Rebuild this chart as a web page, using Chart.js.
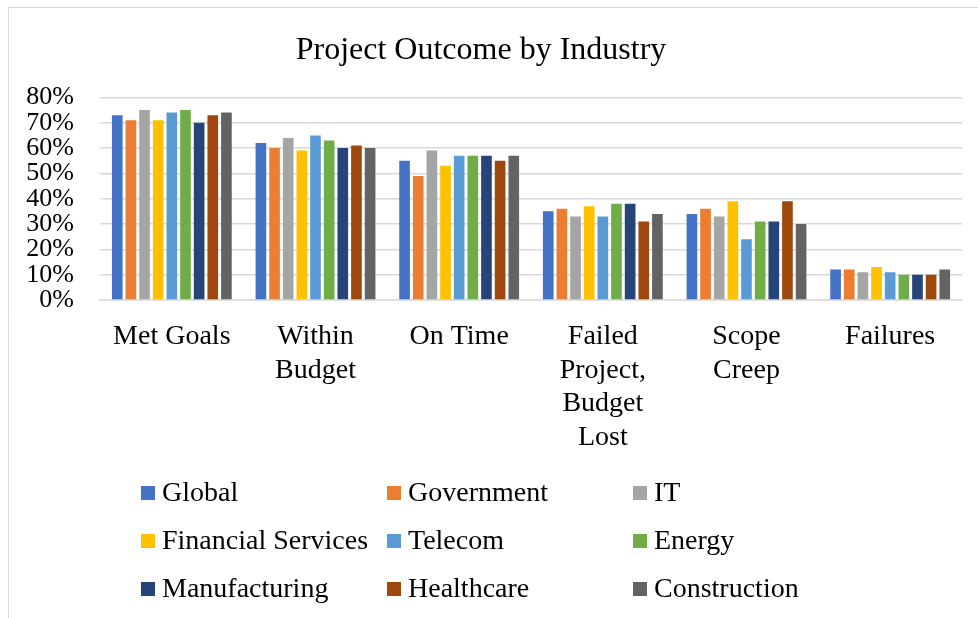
<!DOCTYPE html>
<html>
<head>
<meta charset="utf-8">
<script src="https://cdn.jsdelivr.net/npm/chart.js@4"></script>
<style>
  body { margin: 0; background: #fff; }
  #wrap { position: absolute; left: 0; top: 0; width: 978px; height: 618px; }
</style>
</head>
<body>
<div id="wrap"><canvas id="myChart" width="978" height="618"></canvas></div>
<script>
const categories = ['Met Goals', ['Within', 'Budget'], 'On Time', ['Failed', 'Project,', 'Budget', 'Lost'], ['Scope', 'Creep'], 'Failures'];
const seriesNames = ['Global', 'Government', 'IT', 'Financial Services', 'Telecom', 'Energy', 'Manufacturing', 'Healthcare', 'Construction'];
const seriesColors = ['#4472C4', '#ED7D31', '#A5A5A5', '#FFC000', '#5B9BD5', '#70AD47', '#264478', '#9E480E', '#636363'];
// percent values per industry, in category order
const global = [73, 62, 55, 35, 34, 12];
const government = [71, 60, 49, 36, 36, 12];
const it = [75, 64, 59, 33, 33, 11];
const financialServices = [71, 59, 53, 37, 39, 13];
const telecom = [74, 65, 57, 33, 24, 11];
const energy = [75, 63, 57, 38, 31, 10];
const manufacturing = [70, 60, 57, 38, 31, 10];
const healthcare = [73, 61, 55, 31, 39, 10];
const construction = [74, 60, 57, 34, 30, 12];
const seriesValues = [global, government, it, financialServices, telecom, energy, manufacturing, healthcare, construction];
const yTicks = [0, 10, 20, 30, 40, 50, 60, 70, 80];

const serif = "'Liberation Serif', 'Times New Roman', serif";

// frame around the chart like the office export
const framePlugin = {
    id: 'frame',
    beforeDraw(chart) {
        const c = chart.ctx;
        c.save();
        c.strokeStyle = '#d9d9d9';
        c.lineWidth = 1;
        c.beginPath();
        c.moveTo(8.5, 618);
        c.lineTo(8.5, 7.5);
        c.lineTo(978, 7.5);
        c.stroke();
        c.restore();
    }
};

// legend laid out as a 3 x 3 grid
const gridLegend = {
    id: 'gridLegend',
    afterDraw(chart) {
        const c = chart.ctx;
        const colX = [141, 387, 633];
        const rowY = [493, 541, 589];
        c.save();
        c.font = '28px ' + serif;
        c.textBaseline = 'middle';
        c.fillStyle = '#000';
        chart.data.datasets.forEach((ds, i) => {
            const x = colX[i % 3];
            const y = rowY[Math.floor(i / 3)];
            c.fillStyle = ds.backgroundColor;
            c.fillRect(x, y - 7, 14, 14);
            c.fillStyle = '#000';
            c.fillText(ds.label, x + 21, y + 1);
        });
        c.restore();
    }
};

const ctx = document.getElementById('myChart');

const chart1 = new Chart(ctx, {
    type: 'bar',
    data: {
        labels: categories,
        datasets: seriesNames.map((name, i) => ({
            label: name,
            data: seriesValues[i],
            backgroundColor: seriesColors[i],
            borderWidth: 0,
            categoryPercentage: 0.855,
            barPercentage: 0.78,
        })),
    },
    options: {
        responsive: false,
        animation: false,
        layout: {
            padding: { left: 0, right: 16, top: 0, bottom: 0 }
        },
        plugins: {
            legend: { display: false },
            tooltip: { enabled: false },
            title: {
                display: true,
                text: 'Project Outcome by Industry',
                color: '#000',
                padding: { top: 31, bottom: 28 },
                font: { family: serif, size: 32, weight: 'normal' }
            }
        },
        scales: {
            x: {
                grid: { display: false, drawTicks: false },
                border: { display: true, color: '#d9d9d9', width: 1.5 },
                ticks: {
                    color: '#000',
                    padding: 20,
                    maxRotation: 0,
                    autoSkip: false,
                    font: { family: serif, size: 28, lineHeight: 1.2 }
                },
                afterFit(scale) { scale.height = 318; }
            },
            y: {
                min: 0,
                max: 80,
                afterBuildTicks(scale) { scale.ticks = yTicks.map(v => ({ value: v })); },
                grid: { color: '#d9d9d9', lineWidth: 1.5, drawTicks: false },
                border: { display: false },
                ticks: {
                    color: '#000',
                    padding: 26,
                    autoSkip: false,
                    font: { family: serif, size: 26 },
                    callback: v => v + '%'
                },
                afterFit(scale) { scale.width = 100; }
            }
        }
    },
    plugins: [framePlugin, gridLegend]
});
</script>
</body>
</html>
